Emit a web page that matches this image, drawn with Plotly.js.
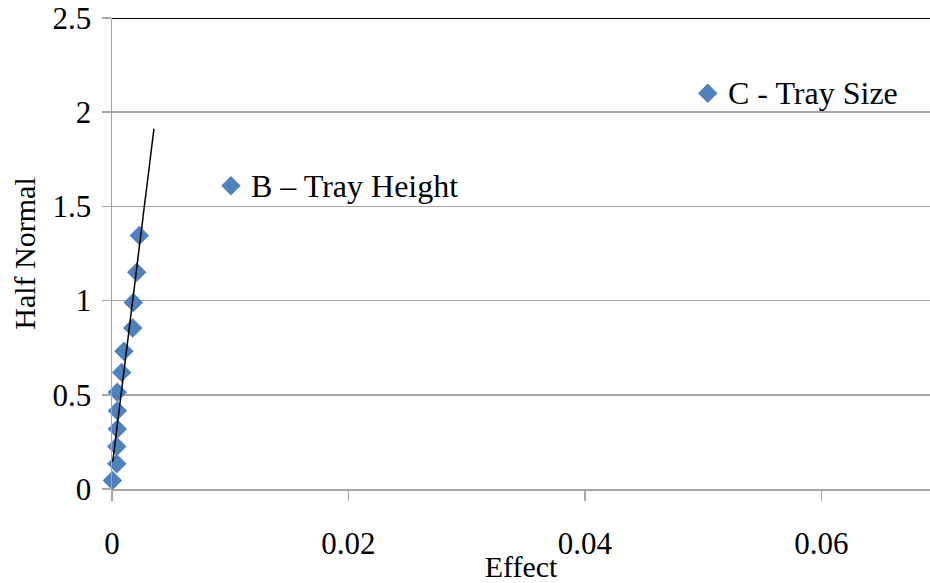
<!DOCTYPE html>
<html>
<head>
<meta charset="utf-8">
<script src="https://cdn.plot.ly/plotly-3.0.1.min.js"></script>
<style>
  html, body { margin: 0; padding: 0; background: #ffffff; }
  #chart { width: 930px; height: 583px; }
</style>
</head>
<body>
<div id="chart"></div>
<script>
// Half-normal probability plot of effects
const effects = [0.00003, 0.0004, 0.0004, 0.00045, 0.00045, 0.00045, 0.00082, 0.00101, 0.00175, 0.0018, 0.00209, 0.00231];
const halfNormal = [0.045, 0.134, 0.225, 0.319, 0.415, 0.514, 0.619, 0.731, 0.854, 0.99, 1.15, 1.345];

// Labelled significant effects
const labelNames = ["B \u2013 Tray Height", "C - Tray Size"];
const labelEffects = [0.01006, 0.0504];
const labelHalfNormal = [1.61, 2.10];

// Reference line through the small effects
const fitEffect = [0.00006, 0.00355];
const fitHalfNormal = [0.144, 1.912];

const serif = "'Liberation Serif', 'Times New Roman', serif";
const blue = "#4f81bd";
const grid = "#a6a6a6";

const traces = [
  {
    x: effects, y: halfNormal,
    type: "scatter", mode: "markers",
    marker: { symbol: "diamond", size: 15, color: blue },
    cliponaxis: false, showlegend: false
  },
  {
    x: fitEffect, y: fitHalfNormal,
    type: "scatter", mode: "lines",
    line: { color: "#000000", width: 1.5 },
    showlegend: false
  },
  {
    x: labelEffects, y: labelHalfNormal,
    type: "scatter", mode: "markers",
    marker: { symbol: "diamond", size: 15, color: blue },
    showlegend: false
  }
];

// Text beside each labelled effect
const annotations = labelNames.map((name, i) => ({
  x: labelEffects[i], y: labelHalfNormal[i],
  xref: "x", yref: "y",
  text: name, showarrow: false,
  xanchor: "left", yanchor: "middle",
  xshift: 18,
  font: { family: serif, size: 32, color: "#000000" }
}));

const layout = {
  width: 930, height: 583,
  margin: { l: 112, r: 0, t: 18, b: 94 },
  paper_bgcolor: "#ffffff", plot_bgcolor: "#ffffff",
  font: { family: serif, size: 30, color: "#000000" },
  xaxis: {
    range: [0, 0.0692],
    tickvals: [0, 0.02, 0.04, 0.06],
    ticktext: ["0", "0.02", "0.04", "0.06"],
    showgrid: false, zeroline: false,
    showline: true, linecolor: grid, linewidth: 1.5,
    ticks: "outside", ticklen: 10, tickcolor: grid, tickwidth: 1.5,
    ticklabelstandoff: 16,
    tickfont: { family: serif, size: 31 },
    title: { text: "Effect", font: { family: serif, size: 30 }, standoff: 2 }
  },
  yaxis: {
    range: [0, 2.5],
    tickvals: [0, 0.5, 1, 1.5, 2, 2.5],
    ticktext: ["0", "0.5", "1", "1.5", "2", "2.5"],
    showgrid: true, gridcolor: grid, gridwidth: 1.5,
    zeroline: false,
    showline: true, linecolor: grid, linewidth: 1.5,
    ticks: "outside", ticklen: 9, tickcolor: grid, tickwidth: 1.5,
    ticklabelstandoff: 4,
    tickfont: { family: serif, size: 31 },
    title: { text: "Half Normal", font: { family: serif, size: 30 }, standoff: 8 }
  },
  annotations: annotations,
  shapes: [
    {
      type: "line", xref: "paper", yref: "y",
      x0: 0, x1: 1, y0: 2.5, y1: 2.5,
      line: { color: "#000000", width: 2 }
    }
  ]
};

Plotly.newPlot("chart", traces, layout, { displayModeBar: false, staticPlot: true });
</script>
</body>
</html>
